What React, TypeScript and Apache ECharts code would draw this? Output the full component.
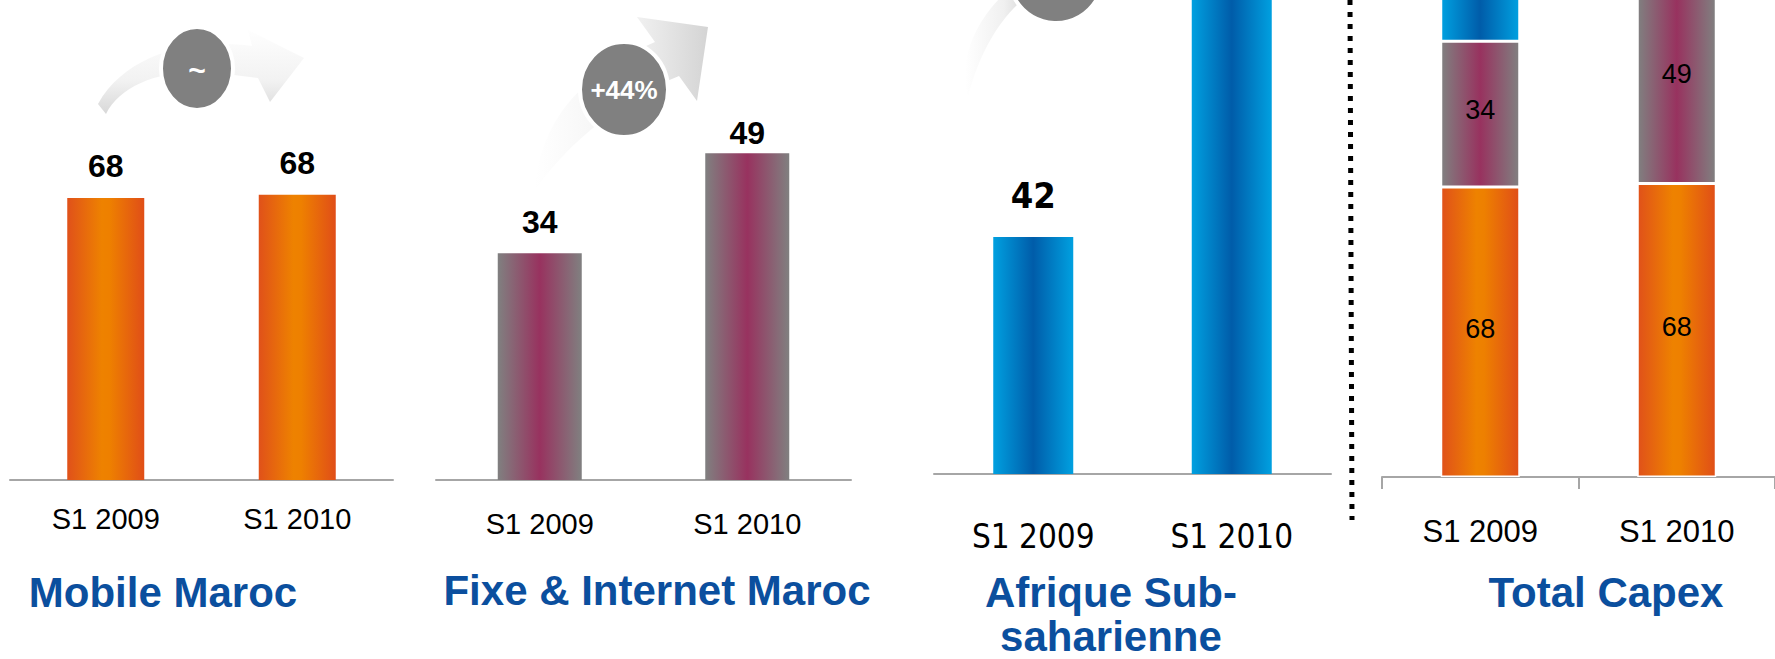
import React, { useEffect, useRef } from "react";
import * as echarts from "echarts";

// ---- data ----
const categories = ["S1 2009", "S1 2010"];
const mobileMaroc = [67.6, 68.4];
const fixeInternet = [34, 49];
const afrique = [42, 102];
const panelTitles = ["Mobile Maroc", "Fixe & Internet Maroc", "Afrique Sub-", "saharienne", "Total Capex"];
const growthLabels = ["~", "+44%"];

const ARIAL = "'Liberation Sans', Arial, Helvetica, sans-serif";
const NARROW = "'Liberation Sans Narrow', 'Arial Narrow', 'DejaVu Sans Condensed', sans-serif";
const TITLE_BLUE = "#0B4F9E";
const AXIS_GRAY = "#A6A6A6";

const ARROW1 =
  "M 106 114 C 120 86 158 70 210 72 L 258 78 L 270 102 L 304 58 L 248 30 L 252 46 C 190 38 126 54 98 104 Z";
const ARROW2 =
  "M 535 190 C 540 120 582 74 655 42 L 637 17 L 708 27 L 697 101 L 679 76 C 625 98 570 140 535 190 Z";
const ARROW3 = "M 968 96 C 958 60 975 22 1004 -6 L 1030 -6 C 1000 16 980 52 968 96 Z";

let registered = false;
function registerShapes() {
  if (registered) return;
  registered = true;
  echarts.graphic.registerShape("arrowA", echarts.graphic.extendPath(ARROW1, {}));
  echarts.graphic.registerShape("arrowB", echarts.graphic.extendPath(ARROW2, {}));
  echarts.graphic.registerShape("arrowC", echarts.graphic.extendPath(ARROW3, {}));
}

const hGrad = (stops: [number, string][]) =>
  new echarts.graphic.LinearGradient(
    0, 0, 1, 0,
    stops.map(([offset, color]) => ({ offset, color }))
  );

const orange = () => hGrad([[0, "#E0511A"], [0.45, "#EE8200"], [0.55, "#EE8000"], [1, "#E04E18"]]);
const purple = () => hGrad([[0, "#808080"], [0.5, "#98325F"], [1, "#808080"]]);
const blue = () => hGrad([[0, "#00A0E0"], [0.5, "#005CA9"], [1, "#00A0E0"]]);

const Y_MAX = [115.1, 72, 84, 111.2];

function buildOption() {
  const grids = [
    { left: 10, width: 383, top: 0, height: 480 },
    { left: 436, width: 415, top: 0, height: 480 },
    { left: 934, width: 397, top: 0, height: 474 },
    { left: 1382, width: 404, top: 0, height: 477 },
  ];
  const labelCfg = [
    { fontSize: 29, fontFamily: ARIAL, margin: 24 },
    { fontSize: 29, fontFamily: ARIAL, margin: 29 },
    { fontSize: 33, fontFamily: NARROW, margin: 46 },
    { fontSize: 31, fontFamily: ARIAL, margin: 39 },
  ];
  const xAxis = grids.map((_, i) => ({
    type: "category",
    gridIndex: i,
    data: categories,
    axisLine: { show: true, lineStyle: { color: AXIS_GRAY, width: 2 } },
    axisTick: { show: i === 3, length: 12, lineStyle: { color: AXIS_GRAY, width: 2 } },
    axisLabel: { color: "#000", ...labelCfg[i] },
  }));
  const yAxis = grids.map((_, i) => ({
    type: "value",
    gridIndex: i,
    min: 0,
    max: Y_MAX[i],
    show: false,
    splitLine: { show: false },
  }));

  const topLabel = (fontSize: number, fontFamily: string, distance: number, max: number) => ({
    show: true,
    position: "top",
    distance,
    fontSize,
    fontWeight: "bold",
    fontFamily,
    color: "#000",
    formatter: (p: any) => (p.value > max ? "" : String(Math.round(p.value))),
  });

  const insideLabel = {
    show: true,
    position: "inside",
    fontSize: 27,
    fontFamily: ARIAL,
    color: "#000",
    offset: [0, -3],
    formatter: (p: any) => String(Math.round(p.value)),
  };

  const fixeDistances = [15, 4];

  const series: any[] = [
    {
      type: "bar",
      xAxisIndex: 0,
      yAxisIndex: 0,
      data: mobileMaroc,
      barWidth: 77,
      itemStyle: { color: orange() },
      label: topLabel(32, ARIAL, 16, Y_MAX[0]),
    },
    {
      type: "bar",
      xAxisIndex: 1,
      yAxisIndex: 1,
      data: fixeInternet.map((v, i) => ({ value: v, label: { distance: fixeDistances[i] } })),
      barWidth: 84,
      itemStyle: { color: purple() },
      label: topLabel(32, ARIAL, 10, Y_MAX[1]),
    },
    {
      type: "bar",
      xAxisIndex: 2,
      yAxisIndex: 2,
      data: afrique,
      barWidth: 80,
      itemStyle: { color: blue() },
      label: topLabel(36, NARROW, 24, Y_MAX[2]),
    },
    {
      type: "bar",
      xAxisIndex: 3,
      yAxisIndex: 3,
      stack: "total",
      data: mobileMaroc,
      barWidth: 79,
      clip: false,
      itemStyle: { color: orange(), borderColor: "#fff", borderWidth: 1.5 },
      label: insideLabel,
    },
    {
      type: "bar",
      xAxisIndex: 3,
      yAxisIndex: 3,
      stack: "total",
      data: fixeInternet,
      barWidth: 79,
      clip: false,
      itemStyle: { color: purple(), borderColor: "#fff", borderWidth: 1.5 },
      label: { ...insideLabel, offset: [0, -4] },
    },
    {
      type: "bar",
      xAxisIndex: 3,
      yAxisIndex: 3,
      stack: "total",
      data: afrique,
      barWidth: 79,
      clip: false,
      itemStyle: { color: blue(), borderColor: "#fff", borderWidth: 1.5 },
      label: { show: false },
    },
  ];

  const arrowFill = () =>
    new echarts.graphic.LinearGradient(0, 0, 0, 1, [
      { offset: 0, color: "#FEFEFE" },
      { offset: 0.6, color: "#F2F2F2" },
      { offset: 1, color: "#D8D8D8" },
    ]);
  const arrowFillH = () =>
    new echarts.graphic.LinearGradient(0, 0, 1, 0, [
      { offset: 0, color: "#FFFFFF" },
      { offset: 0.6, color: "#F0F0F0" },
      { offset: 1, color: "#D4D4D4" },
    ]);

  const titleText = (text: string, x: number, y: number) => ({
    type: "text",
    x,
    y,
    style: {
      text,
      fill: TITLE_BLUE,
      fontSize: 42,
      fontWeight: "bold",
      fontFamily: ARIAL,
      lineHeight: 42,
      align: "center",
      verticalAlign: "middle",
      textAlign: "center",
      textVerticalAlign: "middle",
    },
  });

  const bubbleText = (text: string, x: number, y: number, fontSize: number) => ({
    type: "text",
    x,
    y,
    style: {
      text,
      fill: "#fff",
      fontSize,
      fontWeight: "bold",
      fontFamily: ARIAL,
      align: "center",
      verticalAlign: "middle",
      textAlign: "center",
      textVerticalAlign: "middle",
    },
  });

  const graphic = [
    { type: "arrowA", x: 0, y: 0, style: { fill: arrowFill() } },
    { type: "arrowB", x: 0, y: 0, style: { fill: arrowFillH() } },
    { type: "arrowC", x: 0, y: 0, style: { fill: arrowFillH() } },
    {
      type: "ellipse",
      shape: { cx: 197, cy: 68.5, rx: 36, ry: 41.5 },
      style: { fill: "#808080", stroke: "#fff", lineWidth: 4 },
    },
    bubbleText(growthLabels[0], 197, 70, 30),
    {
      type: "ellipse",
      shape: { cx: 624, cy: 89.5, rx: 44, ry: 47.5 },
      style: { fill: "#808080", stroke: "#fff", lineWidth: 4 },
    },
    bubbleText(growthLabels[1], 624, 90, 26),
    {
      type: "circle",
      shape: { cx: 1056, cy: -24, r: 47 },
      style: { fill: "#808080", stroke: "#fff", lineWidth: 4 },
    },
    {
      type: "line",
      shape: { x1: 1350, y1: 0, x2: 1352, y2: 520 },
      style: { stroke: "#000", lineWidth: 5, lineDash: [5, 7] },
    },
    titleText(panelTitles[0], 163, 592),
    titleText(panelTitles[1], 657, 590),
    titleText(panelTitles[2], 1111, 592),
    titleText(panelTitles[3], 1111, 636),
    titleText(panelTitles[4], 1606, 592),
  ];

  return {
    animation: false,
    backgroundColor: "#ffffff",
    grid: grids,
    xAxis,
    yAxis,
    series,
    graphic,
  };
}

export default function App() {
  const ref = useRef<HTMLDivElement>(null);
  useEffect(() => {
    if (!ref.current) return;
    registerShapes();
    const chart = echarts.init(ref.current, undefined, { renderer: "svg" });
    chart.setOption(buildOption() as any);
    return () => chart.dispose();
  }, []);
  return (
    <div
      ref={ref}
      style={{ position: "absolute", left: 0, top: 0, width: 1775, height: 659, background: "#fff" }}
    />
  );
}
